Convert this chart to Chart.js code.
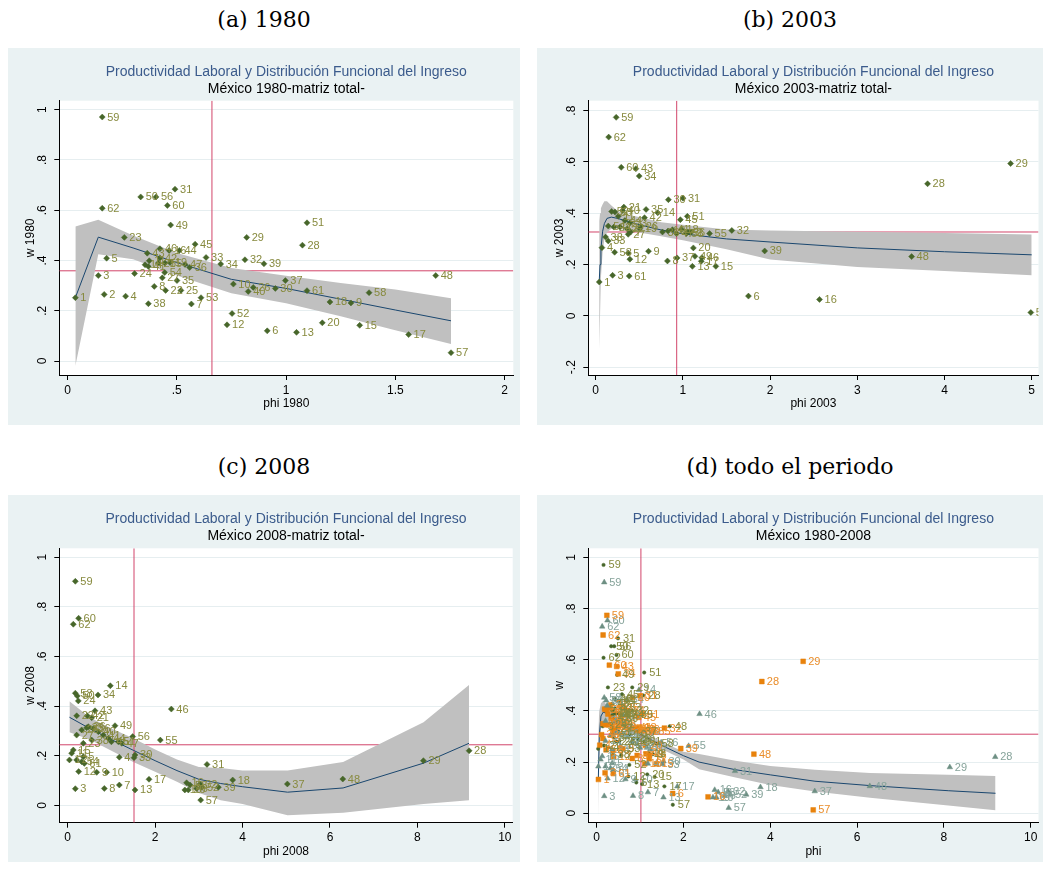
<!DOCTYPE html>
<html>
<head>
<meta charset="utf-8">
<script src="https://cdn.jsdelivr.net/npm/chart.js@4.4.1/dist/chart.umd.min.js"></script>
<style>
  body { margin: 0; background: #fff; width: 1046px; height: 871px; position: relative; overflow: hidden; }
  .cap { position: absolute; font-family: "DejaVu Serif", serif; font-size: 22px; line-height: 26px; text-align: center; color: #000; }
  .panel { position: absolute; }
</style>
</head>
<body>
<div class="cap" style="left:8px;top:7px;width:512px">(a) 1980</div>
<div class="cap" style="left:537px;top:7px;width:506px">(b) 2003</div>
<div class="cap" style="left:8px;top:454px;width:512px">(c) 2008</div>
<div class="cap" style="left:537px;top:454px;width:506px">(d) todo el periodo</div>

<div class="panel" style="left:8px;top:48px"><canvas id="g1980" width="512" height="377"></canvas></div>
<div class="panel" style="left:537px;top:48px"><canvas id="g2003" width="506" height="377"></canvas></div>
<div class="panel" style="left:8px;top:495px"><canvas id="g2008" width="512" height="367"></canvas></div>
<div class="panel" style="left:537px;top:495px"><canvas id="gTodo" width="506" height="367"></canvas></div>

<script>
// sectores de la matriz (etiquetas de los puntos)
const sectores = ['1','2','3','4','5','6','7','8','9','10','11','12','13','14','15','16','17','18','19','20',
  '21','22','23','24','25','26','27','28','29','30','31','32','33','34','35','36','37','38','39','40',
  '41','42','43','44','45','46','47','48','49','50','51','52','53','54','55','56','57','58','59','60','61','62']

// ---------------- 1980 ----------------
const phi1980 = [0.036,0.168,0.141,0.266,0.179,0.914,0.567,0.397,1.297,0.759,
  0.374,0.730,1.048,0.355,1.337,0.465,1.561,1.201,0.469,1.166,
  0.416,0.449,0.260,0.307,0.519,0.850,0.434,1.075,0.820,0.951,
  0.492,0.812,0.634,0.701,0.501,0.559,0.997,0.370,0.899,0.827,
  0.370,0.423,0.365,0.512,0.584,0.423,0.538,1.685,0.472,0.335,
  1.096,0.753,0.611,0.445,0.446,0.405,1.755,1.380,0.159,0.457,1.096,0.159]
const w1980 = [0.252,0.265,0.340,0.258,0.409,0.120,0.227,0.297,0.231,0.306,
  0.399,0.144,0.114,0.383,0.142,0.440,0.105,0.235,0.392,0.152,
  0.390,0.281,0.492,0.348,0.281,0.293,0.331,0.461,0.492,0.289,
  0.684,0.403,0.412,0.386,0.320,0.372,0.320,0.228,0.387,0.277,
  0.376,0.410,0.429,0.440,0.465,0.447,0.384,0.340,0.541,0.653,
  0.550,0.189,0.252,0.352,0.390,0.653,0.033,0.272,0.971,0.619,0.280,0.608]
// ajuste e intervalo de confianza
const fitX1980 = [0.036,0.141,0.3,0.5,0.75,1.0,1.25,1.5,1.755]
const fit1980 = [0.252,0.493,0.45,0.392,0.325,0.289,0.246,0.203,0.16]
const ciHi1980 = [0.535,0.562,0.50,0.43,0.37,0.339,0.31,0.285,0.25]
const ciLo1980 = [-0.02,0.425,0.405,0.34,0.27,0.23,0.178,0.122,0.068]
const ref1980 = [0.661, 0.359]   // [phi, w]

// ---------------- 2003 ----------------
const phi2003 = [0.041,1.097,0.194,0.072,0.373,1.752,0.40,0.823,0.606,0.83,
  0.259,0.392,1.109,0.712,1.378,2.567,1.211,0.983,0.506,1.12,
  0.323,0.361,0.392,0.209,0.278,0.518,0.373,3.806,4.758,0.834,
  1.001,1.561,0.144,0.499,0.578,0.766,0.933,0.114,1.938,0.309,
  0.88,0.56,0.461,0.335,0.971,1.218,0.926,3.623,1.138,0.221,
  1.051,0.183,1.04,0.144,1.306,1.058,4.99,0.217,0.235,0.293,0.384,0.149]
const w2003 = [0.132,0.327,0.158,0.266,0.245,0.077,0.327,0.214,0.252,0.331,
  0.388,0.221,0.193,0.402,0.193,0.064,0.213,0.337,0.340,0.265,
  0.424,0.340,0.362,0.346,0.346,0.349,0.318,0.515,0.594,0.453,
  0.459,0.333,0.292,0.545,0.415,0.327,0.226,0.307,0.253,0.411,
  0.336,0.383,0.574,0.372,0.375,0.227,0.321,0.231,0.232,0.405,
  0.388,0.407,0.321,0.350,0.321,0.327,0.013,0.248,0.774,0.579,0.155,0.697]
const fitX2003 = [0.04,0.05,0.06,0.08,0.1,0.13,0.18,0.25,0.35,0.5,0.75,1.0,1.5,2.0,3.0,4.0,5.0]
const fit2003 = [0.13,0.20,0.26,0.33,0.36,0.38,0.385,0.38,0.37,0.355,0.335,0.32,0.30,0.288,0.265,0.25,0.238]
const ciHi2003 = [0.37,0.40,0.42,0.435,0.447,0.447,0.43,0.41,0.395,0.385,0.365,0.355,0.337,0.333,0.328,0.323,0.317]
const ciLo2003 = [-0.13,0.0,0.15,0.25,0.30,0.325,0.34,0.34,0.335,0.325,0.31,0.295,0.26,0.22,0.19,0.175,0.158]
const ref2003 = [0.929, 0.327]

// ---------------- 2008 ----------------
const phi2008 = [0.04,0.205,0.175,1.181,0.357,2.95,1.181,0.838,0.664,0.892,
  0.09,0.251,1.54,0.975,0.128,2.72,1.86,3.775,2.68,2.76,
  0.549,0.206,0.357,0.243,0.32,0.472,0.205,9.183,8.137,1.54,
  3.187,3.03,1.517,0.693,0.435,0.586,5.025,0.549,3.447,0.70,
  0.815,0.449,0.625,0.93,1.0,2.371,1.236,6.293,1.082,0.22,
  1.16,3.07,2.8,0.32,2.119,1.487,3.043,0.175,0.175,0.25,0.380,0.128]
const w2008 = [0.183,0.183,0.067,0.194,0.196,0.068,0.082,0.068,0.133,0.133,
  0.21,0.136,0.062,0.482,0.223,0.091,0.105,0.102,0.062,0.062,
  0.353,0.361,0.250,0.421,0.304,0.317,0.283,0.220,0.180,0.203,
  0.165,0.086,0.192,0.445,0.313,0.310,0.086,0.263,0.073,0.297,
  0.283,0.361,0.381,0.270,0.256,0.388,0.250,0.106,0.321,0.441,
  0.256,0.073,0.082,0.176,0.263,0.277,0.021,0.452,0.903,0.754,0.169,0.730]
const fitX2008 = [0.04,0.5,1.0,1.5,2.0,2.5,3.0,3.5,4.0,5.03,6.3,8.14,9.18]
const fit2008 = [0.355,0.31,0.265,0.222,0.18,0.14,0.105,0.088,0.075,0.053,0.07,0.17,0.25]
const ciHi2008 = [0.42,0.355,0.31,0.27,0.225,0.185,0.155,0.15,0.14,0.14,0.175,0.335,0.485]
const ciLo2008 = [0.295,0.265,0.22,0.175,0.135,0.095,0.05,0.02,0.005,-0.04,-0.03,0.005,0.02]
const ref2008 = [1.517, 0.244]

// ---------------- todo el periodo ----------------
const fitXTodo = [0.04,0.06,0.1,0.15,0.25,0.5,1.0,1.5,2.0,2.36,3.2,4.0,5.03,6.3,8.1,9.19]
const fitTodo = [0.14,0.30,0.38,0.395,0.39,0.36,0.31,0.265,0.225,0.20,0.17,0.15,0.125,0.108,0.088,0.078]
const ciHiTodo = [0.33,0.40,0.43,0.44,0.42,0.38,0.325,0.28,0.24,0.232,0.205,0.185,0.17,0.157,0.15,0.146]
const ciLoTodo = [-0.02,0.2,0.33,0.35,0.36,0.34,0.295,0.25,0.21,0.172,0.14,0.11,0.085,0.06,0.03,0.012]
const refTodo = [1.02, 0.309]

// marcas de los ejes
const xTicks1980 = [0, 0.5, 1, 1.5, 2]
const yTicks1980 = [0, 0.2, 0.4, 0.6, 0.8, 1]
const xTicks2003 = [0, 1, 2, 3, 4, 5]
const yTicks2003 = [-0.2, 0, 0.2, 0.4, 0.6, 0.8]
const xTicks2008 = [0, 2, 4, 6, 8, 10]
const yTicks2008 = [0, 0.2, 0.4, 0.6, 0.8, 1]

const FUENTE = '"Liberation Sans", Arial, sans-serif'
const ROJO = '#d2456a'
const VERDE = '#47662a', VERDE_TXT = '#878a3e'
const NARANJA = '#e8820c', NARANJA_TXT = '#ea8d2a'
const GRIS = '#6d8f83', GRIS_TXT = '#86a39a'

Chart.defaults.font.family = FUENTE
Chart.defaults.color = '#000'

function pts(xs, ys) { return xs.map((x, i) => ({x: x, y: ys[i]})) }

// etiquetas estilo Stata: .2, -.2, 1.5
function txt(v) {
  let s = String(Math.round(v * 10) / 10)
  return s.replace(/^0\./, '.').replace(/^-0\./, '-.')
}

// fondo gris azulado y region blanca
const fondo = {
  id: 'fondo',
  beforeDraw(chart) {
    const {ctx, chartArea: a, width, height} = chart
    ctx.save()
    ctx.fillStyle = '#eaf2f3'
    ctx.fillRect(0, 0, width, height)
    ctx.fillStyle = '#fff'
    ctx.fillRect(a.left, a.top, a.right - a.left, a.bottom - a.top)
    ctx.restore()
  }
}

// etiquetas del eje y giradas
const etiquetasY = {
  id: 'etiquetasY',
  afterDraw(chart) {
    const s = chart.scales.y, ctx = chart.ctx
    ctx.save()
    ctx.font = '12px ' + FUENTE
    ctx.fillStyle = '#000'
    ctx.textAlign = 'center'
    ctx.textBaseline = 'middle'
    s.ticks.forEach(t => {
      ctx.save()
      ctx.translate(s.right - 17, s.getPixelForValue(t.value))
      ctx.rotate(-Math.PI / 2)
      ctx.fillText(txt(t.value), 0, 0)
      ctx.restore()
    })
    ctx.restore()
  }
}

// numero de sector junto a cada punto
const etiquetasPuntos = {
  id: 'etiquetasPuntos',
  afterDatasetsDraw(chart) {
    const {ctx, chartArea: a} = chart
    ctx.save()
    ctx.beginPath()
    ctx.rect(a.left, a.top, a.right - a.left, a.bottom - a.top)
    ctx.clip()
    ctx.font = '11px ' + FUENTE
    ctx.textAlign = 'left'
    ctx.textBaseline = 'middle'
    chart.data.datasets.forEach((ds, i) => {
      if (!ds.etiquetas) return
      ctx.fillStyle = ds.colorEtiqueta
      chart.getDatasetMeta(i).data.forEach((p, j) => {
        ctx.fillText(ds.etiquetas[j], p.x + 5, p.y + 0.5)
      })
    })
    ctx.restore()
  }
}

function grafico(id, o) {
  const ds = []
  o.series.forEach(s => ds.push({
    type: 'scatter',
    data: pts(s.x, s.y),
    etiquetas: sectores,
    colorEtiqueta: s.colorTxt,
    pointStyle: s.forma,
    pointRadius: s.r,
    pointBackgroundColor: s.color,
    pointBorderColor: s.color,
    pointBorderWidth: 0.5
  }))
  // linea ajustada
  ds.push({type: 'line', data: pts(o.fitX, o.fit), borderColor: '#1a476f', borderWidth: 1, pointRadius: 0, fill: false})
  // linea vertical de referencia
  ds.push({type: 'line', data: [{x: o.ref[0], y: o.yMin}, {x: o.ref[0], y: o.yMax}], borderColor: ROJO, borderWidth: 1, pointRadius: 0, fill: false})
  // banda de confianza
  ds.push({type: 'line', data: pts(o.fitX, o.hi), borderColor: 'rgba(0,0,0,0)', pointRadius: 0, fill: '+1', backgroundColor: '#c0c0c0'})
  ds.push({type: 'line', data: pts(o.fitX, o.lo), borderColor: 'rgba(0,0,0,0)', pointRadius: 0, fill: false})
  // linea horizontal de referencia (queda bajo la banda)
  ds.push({type: 'line', data: [{x: o.xMin, y: o.ref[1]}, {x: o.xMax, y: o.ref[1]}], borderColor: ROJO, borderWidth: 1, pointRadius: 0, fill: false})

  new Chart(document.getElementById(id), {
    type: 'scatter',
    data: {datasets: ds},
    options: {
      responsive: false,
      animation: false,
      events: [],
      layout: {padding: {left: 0, top: 0, right: o.padR, bottom: 0}},
      plugins: {
        legend: {display: false},
        tooltip: {enabled: false},
        title: {display: true, text: 'Productividad Laboral y Distribución Funcional del Ingreso', fullSize: false,
          color: '#3b5b8c', font: {size: 14, weight: 'normal'}, padding: {top: 15.6, bottom: 0}},
        subtitle: {display: true, text: o.subtitulo, fullSize: false,
          color: '#000', font: {size: 14, weight: 'normal'}, padding: {top: 0.4, bottom: o.subPad}}
      },
      scales: {
        x: {
          type: 'linear', min: o.xMin, max: o.xMax,
          afterBuildTicks: s => { s.ticks = o.xTicks.map(v => ({value: v})) },
          afterFit: s => { s.height = o.xAlto },
          grid: {drawOnChartArea: false, tickLength: 5, tickColor: '#000'},
          border: {color: '#000', width: 1},
          ticks: {callback: v => txt(v), font: {size: 12}, color: '#000', padding: 3, autoSkip: false, maxRotation: 0},
          title: {display: true, text: o.xTitulo, font: {size: 12}, color: '#000', padding: {top: 0, bottom: o.xTitPad}}
        },
        y: {
          type: 'linear', min: o.yMin, max: o.yMax,
          afterBuildTicks: s => { s.ticks = o.yTicks.map(v => ({value: v})) },
          afterFit: s => { s.width = 51.3 },
          grid: {color: '#e6eef0', tickLength: 5, tickColor: '#000'},
          border: {color: '#000', width: 1},
          ticks: {display: false},
          title: {display: true, text: o.yTitulo, font: {size: 12}, color: '#000', padding: {top: 15.8, bottom: 0}}
        }
      }
    },
    plugins: [fondo, etiquetasY, etiquetasPuntos]
  })
}

const diamante = (x, y) => ({x: x, y: y, forma: 'rectRot', r: 3, color: VERDE, colorTxt: VERDE_TXT})

grafico('g1980', {
  series: [diamante(phi1980, w1980)],
  fitX: fitX1980, fit: fit1980, hi: ciHi1980, lo: ciLo1980, ref: ref1980,
  xMin: -0.0375, xMax: 2.04, yMin: -0.0557, yMax: 1.036,
  xTicks: xTicks1980, yTicks: yTicks1980,
  xTitulo: 'phi 1980', yTitulo: 'w 1980', subtitulo: 'México 1980-matriz total-',
  padR: 6.7, xAlto: 50, xTitPad: 14.5, subPad: 3.1
})

grafico('g2003', {
  series: [diamante(phi2003, w2003)],
  fitX: fitX2003, fit: fit2003, hi: ciHi2003, lo: ciLo2003, ref: ref2003,
  xMin: -0.0846, xMax: 5.078, yMin: -0.2307, yMax: 0.839,
  xTicks: xTicks2003, yTicks: yTicks2003,
  xTitulo: 'phi 2003', yTitulo: 'w 2003', subtitulo: 'México 2003-matriz total-',
  padR: 3, xAlto: 50, xTitPad: 14.5, subPad: 3.1
})

grafico('g2008', {
  series: [diamante(phi2008, w2008)],
  fitX: fitX2008, fit: fit2008, hi: ciHi2008, lo: ciLo2008, ref: ref2008,
  xMin: -0.192, xMax: 10.18, yMin: -0.07, yMax: 1.036,
  xTicks: xTicks2008, yTicks: yTicks2008,
  xTitulo: 'phi 2008', yTitulo: 'w 2008', subtitulo: 'México 2008-matriz total-',
  padR: 7.3, xAlto: 39.3, xTitPad: 2.8, subPad: 3.7
})

grafico('gTodo', {
  series: [
    {x: phi2008, y: w2008, forma: 'triangle', r: 3.2, color: GRIS, colorTxt: GRIS_TXT},
    {x: phi2003, y: w2003, forma: 'rect', r: 3.4, color: NARANJA, colorTxt: NARANJA_TXT},
    {x: phi1980, y: w1980, forma: 'circle', r: 1.7, color: VERDE, colorTxt: VERDE_TXT}
  ],
  fitX: fitXTodo, fit: fitTodo, hi: ciHiTodo, lo: ciLoTodo, ref: refTodo,
  xMin: -0.192, xMax: 10.18, yMin: -0.0371, yMax: 1.036,
  xTicks: xTicks2008, yTicks: yTicks2008,
  xTitulo: 'phi', yTitulo: 'w', subtitulo: 'México 1980-2008',
  padR: 1.3, xAlto: 39.3, xTitPad: 2.8, subPad: 3.7
})
</script>
</body>
</html>
